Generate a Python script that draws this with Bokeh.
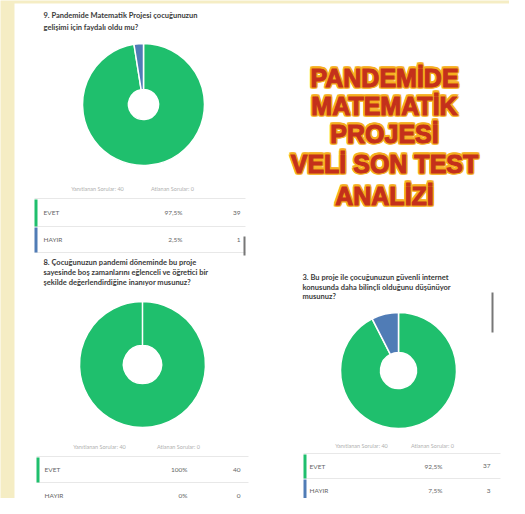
import math
from bokeh.plotting import figure
from bokeh.models import Range1d
from bokeh.core.properties import value
from bokeh.embed import file_html
from bokeh.resources import INLINE

# ---------------- data ----------------
labels = ["EVET", "HAYIR"]
q9_pct = [97.5, 2.5]
q9_cnt = [39, 1]
q8_pct = [100, 0]
q8_cnt = [40, 0]
q3_pct = [92.5, 7.5]
q3_cnt = [37, 3]
answered = [40, 40, 40]
skipped = [0, 0, 0]
q9_title = ["9. Pandemide Matematik Projesi çocuğunuzun", "gelişimi için faydalı oldu mu?"]
q8_title = ["8. Çocuğunuzun pandemi döneminde bu proje",
            "sayesinde boş zamanlarını eğlenceli ve öğretici bir",
            "şekilde değerlendirdiğine inanıyor musunuz?"]
q3_title = ["3. Bu proje ile çocuğunuzun güvenli internet",
            "konusunda daha bilinçli olduğunu düşünüyor",
            "musunuz?"]
big_title = ["PANDEMİDE", "MATEMATİK", "PROJESİ", "VELİ SON TEST", "ANALİZİ"]
slice_colors = ["#1fbf6d", "#507cb6"]

W, H = 509, 498
p = figure(width=W, height=H, output_backend="svg", toolbar_location=None,
           x_range=Range1d(0, W), y_range=Range1d(0, H), min_border=0)
p.axis.visible = False
p.grid.visible = False
p.outline_line_color = None
p.background_fill_color = "#f5edc4"
p.border_fill_color = "#f5edc4"

def Y(v):
    return H - v

# white sheet
p.quad(left=14, right=W + 5, bottom=Y(H + 5), top=Y(3), fill_color="white", line_color=None)

FONT = value("Lato")

def fmt_pct(v):
    return ("%g" % v).replace(".", ",") + "%"

def panel(pct, cnt, title, tx, ty, lh, cx, cy, ro, ri, tb):
    # title
    p.text(x=[tx] * len(title), y=[Y(ty + i * lh) for i in range(len(title))], text=title,
           text_font=FONT, text_font_style="bold", text_font_size="7.5px",
           text_color="#3a3a3a", text_baseline="middle", text_align="left")
    # donut
    tot = sum(pct)
    st, en, cols = [], [], []
    cum = 0.0
    for v, c in zip(pct, slice_colors):
        if v <= 0:
            cum += v
            continue
        a0 = math.pi / 2 - 2 * math.pi * cum / tot
        span = min(2 * math.pi * v / tot, 2 * math.pi - 0.0005)
        st.append(a0)
        en.append(a0 - span)
        cols.append(c)
        cum += v
    n = len(st)
    p.annular_wedge(x=[cx] * n, y=[Y(cy)] * n, inner_radius=ri, outer_radius=ro,
                    inner_radius_units="screen", outer_radius_units="screen",
                    start_angle=st, end_angle=en, direction="clock",
                    fill_color=cols, line_color="white", line_width=1.5)
    # table
    x0, x1, hy, hx1, hx2, lines, lx, pr, cr, idx = tb
    p.text(x=[hx1, hx2], y=[Y(hy)] * 2,
           text=["Yanıtlanan Sorular: %d" % answered[idx], "Atlanan Sorular: %d" % skipped[idx]],
           text_font=FONT, text_font_size="5.5px", text_color="#b0b0b0",
           text_baseline="middle", text_align="center")
    p.segment(x0=[x0] * len(lines), x1=[x1] * len(lines), y0=[Y(l) for l in lines],
              y1=[Y(l) for l in lines], line_color="#e8e8e8", line_width=1)
    rows = [(lines[i] + lines[i + 1]) / 2 for i in range(len(lines) - 1)]
    bt, bb, bc = [], [], []
    for i, (v, c) in enumerate(zip(cnt, slice_colors)):
        if v > 0:
            bt.append(Y(lines[i] + 1))
            bb.append(Y(lines[i + 1]))
            bc.append(c)
    p.quad(left=x0, right=x0 + 3, top=bt, bottom=bb, fill_color=bc, line_color=None)
    p.text(x=[lx] * 2, y=[Y(r) for r in rows], text=labels, text_font=FONT,
           text_font_size="6.5px", text_color="#666666", text_baseline="middle", text_align="left")
    p.text(x=[pr] * 2, y=[Y(r) for r in rows], text=[fmt_pct(v) for v in pct], text_font=FONT,
           text_font_size="6.5px", text_color="#666666", text_baseline="middle", text_align="right")
    p.text(x=[cr] * 2, y=[Y(r) for r in rows], text=[str(v) for v in cnt], text_font=FONT,
           text_font_size="6.5px", text_color="#666666", text_baseline="middle", text_align="right")

panel(q9_pct, q9_cnt, q9_title, 43, 15, 12, 143, 104, 61, 15,
      (34, 245, 188, 97, 172, [198, 226, 252], 43, 182, 240, 0))
panel(q8_pct, q8_cnt, q8_title, 43, 262, 10, 142, 364, 63, 19,
      (36, 248, 446, 99, 178, [456, 482, 508], 44, 187, 240, 1))
panel(q3_pct, q3_cnt, q3_title, 302, 277, 9.5, 398, 370, 58, 18,
      (303, 500, 445, 361, 432, [453, 478, 502], 309, 442, 490, 2))

# scroll bar fragments
p.segment(x0=[244, 492], x1=[244, 492], y0=[Y(236), Y(292)], y1=[Y(255), Y(332)],
          line_color="#777777", line_width=2)

# big title: orange halo, then red letters
big_y = [77, 105, 133, 163, 195]
bx = [384] * len(big_title)
by = [Y(v) for v in big_y]
for dx, dy in [(-1.5, 0), (1.5, 0), (0, -1.5), (0, 1.5), (-1.1, -1.1), (1.1, 1.1), (-1.1, 1.1), (1.1, -1.1)]:
    p.text(x=bx, y=by, text=big_title, x_offset=dx, y_offset=dy,
           text_font=value("Liberation Sans"), text_font_style="bold", text_font_size="25px",
           text_color="#f6b01e", text_outline_color="#f6b01e",
           text_align="center", text_baseline="middle")
p.text(x=bx, y=by, text=big_title,
       text_font=value("Liberation Sans"), text_font_style="bold", text_font_size="25px",
       text_color="#c4301b", text_outline_color="#c4301b",
       text_align="center", text_baseline="middle")

open("out.html", "w").write(file_html(p, INLINE))
